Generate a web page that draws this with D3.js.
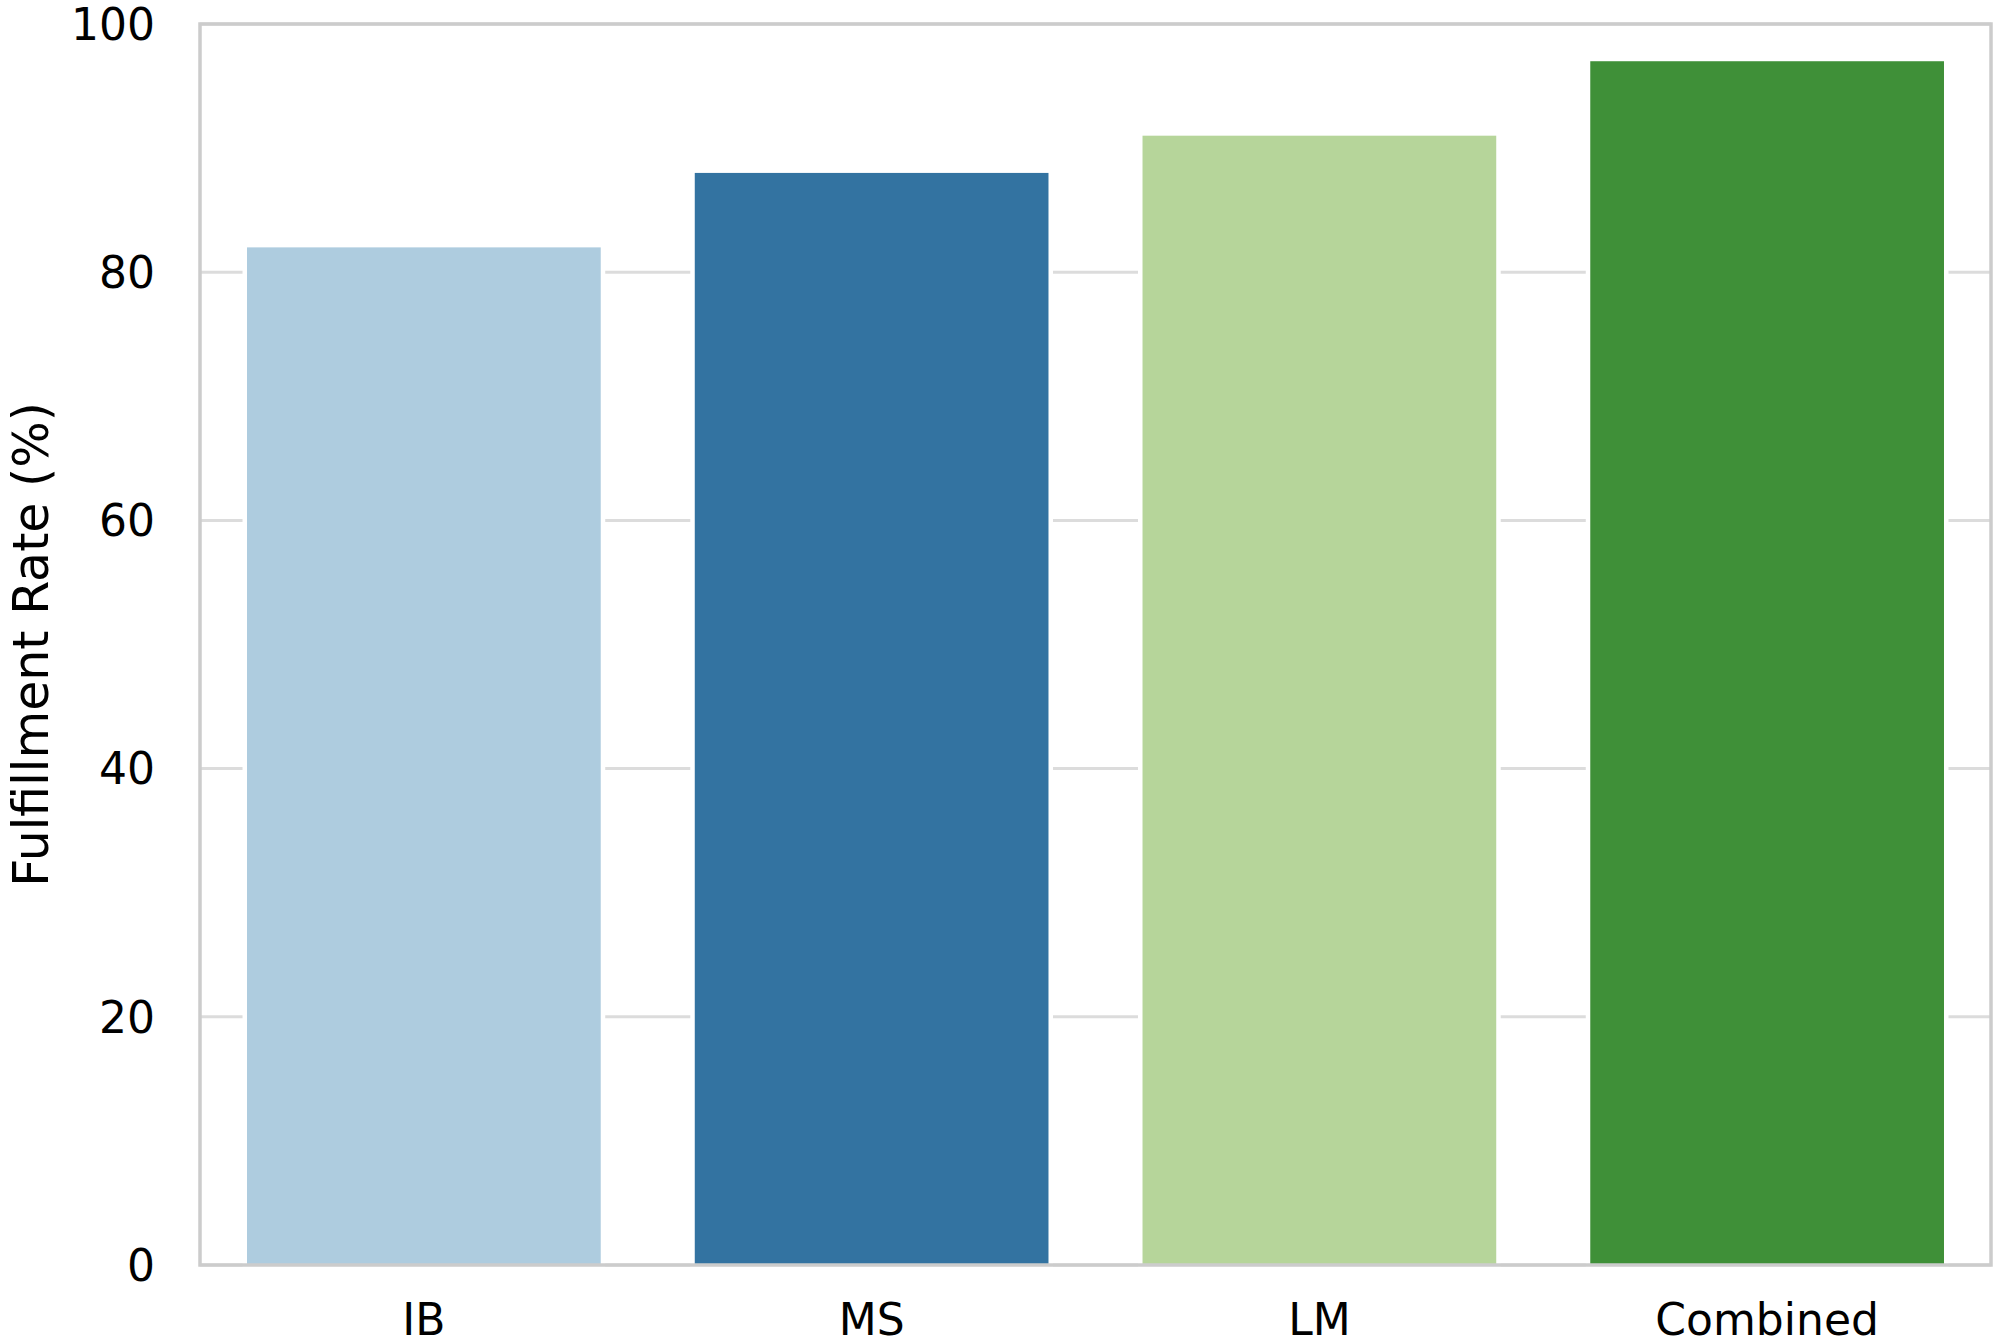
<!DOCTYPE html>
<html>
<head>
<meta charset="utf-8">
<script src="https://cdn.jsdelivr.net/npm/d3@7"></script>
<style>
  body { margin: 0; background: #fff; }
  text { font-family: "DejaVu Sans", sans-serif; fill: #000; }
</style>
</head>
<body>
<div id="chart"></div>
<script>
// data
var categories = ["IB", "MS", "LM", "Combined"];
var rates = [82, 88, 91, 97];
var barColors = ["#aeccdf", "#3373a1", "#b6d59a", "#3f9038"];
var yTicks = [0, 20, 40, 60, 80, 100];

var width = 1999;
var height = 1344;
var margin = {left: 200, right: 8, top: 24, bottom: 79};

var svg = d3.select("#chart").append("svg")
    .attr("width", width)
    .attr("height", height);

var x = d3.scaleBand()
    .domain(categories)
    .range([margin.left, width - margin.right])
    .paddingInner(0.21)
    .paddingOuter(0.105);

var y = d3.scaleLinear()
    .domain([0, 100])
    .range([height - margin.bottom, margin.top]);

//horizontal grid lines
svg.append("g")
    .selectAll("line")
    .data(yTicks)
    .enter().append("line")
        .attr("x1", margin.left)
        .attr("x2", width - margin.right)
        .attr("y1", function(d){ return y(d); })
        .attr("y2", function(d){ return y(d); })
        .style("stroke", "#dcdcdc")
        .style("stroke-width", 3);

//bars, with a white edge that cuts the grid
var data = categories.map(function(c, i){ return {cat: c, val: rates[i], col: barColors[i]}; });

svg.append("g")
    .selectAll("rect")
    .data(data)
    .enter().append("rect")
        .attr("x", function(d){ return x(d.cat); })
        .attr("y", function(d){ return y(d.val); })
        .attr("width", x.bandwidth())
        .attr("height", function(d){ return y(0) - y(d.val); })
        .style("fill", function(d){ return d.col; })
        .style("stroke", "#fff")
        .style("stroke-width", 9)
        .style("paint-order", "stroke");

//frame
svg.append("rect")
    .attr("x", margin.left)
    .attr("y", margin.top)
    .attr("width", width - margin.left - margin.right)
    .attr("height", height - margin.top - margin.bottom)
    .style("fill", "none")
    .style("stroke", "#cccccc")
    .style("stroke-width", 3.5);

//y tick labels
svg.append("g")
    .selectAll("text")
    .data(yTicks)
    .enter().append("text")
        .attr("x", 155)
        .attr("y", function(d){ return y(d); })
        .attr("dy", "0.36em")
        .attr("text-anchor", "end")
        .style("font-size", "44px")
        .text(function(d){ return d; });

//x tick labels
svg.append("g")
    .selectAll("text")
    .data(categories)
    .enter().append("text")
        .attr("x", function(d){ return x(d) + x.bandwidth() / 2; })
        .attr("y", 1335)
        .attr("text-anchor", "middle")
        .style("font-size", "44px")
        .text(function(d){ return d; });

//y axis title
svg.append("text")
    .attr("transform", "translate(48," + ((margin.top + height - margin.bottom) / 2) + ") rotate(-90)")
    .attr("text-anchor", "middle")
    .style("font-size", "49px")
    .text("Fulfillment Rate (%)");
</script>
</body>
</html>
